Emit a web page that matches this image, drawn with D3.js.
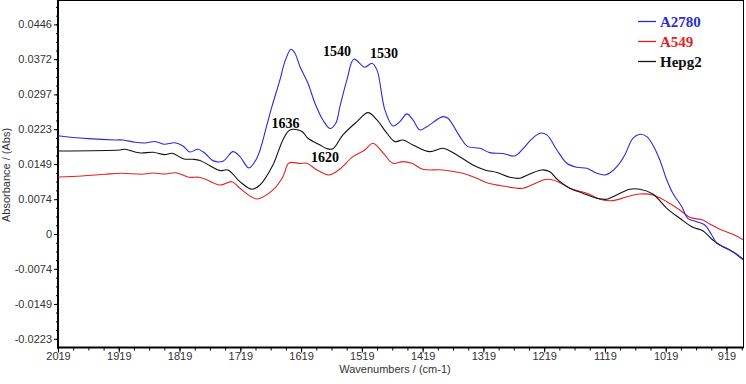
<!DOCTYPE html>
<html>
<head>
<meta charset="utf-8">
<script src="https://cdnjs.cloudflare.com/ajax/libs/d3/7.8.5/d3.min.js"></script>
<style>
body { margin: 0; background: #fff; }
svg { display: block; }
.axis text { font-family: 'Liberation Sans', Arial, sans-serif; font-size: 11px; fill: #333; }
.axis line { stroke: #000; }
</style>
</head>
<body>
<div id="chart"></div>
<script>
// spectra: wavenumber (cm-1) and absorbance
var a2780Wn = [2019, 2015.7, 1969.7, 1925.2, 1912.1, 1892.3, 1875.9, 1859.4, 1844.6, 1826.5, 1813.4, 1801.9, 1788.7, 1777.2, 1764.0, 1747.6, 1731.1, 1719.6, 1704.8, 1691.6, 1675.2, 1667.0, 1653.8, 1645.6, 1635.7, 1629.1, 1620.9, 1607.7, 1596.2, 1583.1, 1571.6, 1561.7, 1555.1, 1543.6, 1532.1, 1514.0, 1502.5, 1494.2, 1481.1, 1467.9, 1456.4, 1444.9, 1435.0, 1423.5, 1412.0, 1385.7, 1377.4, 1357.7, 1344.5, 1324.8, 1308.4, 1287.0, 1267.2, 1254.1, 1240.9, 1226.1, 1214.6, 1198.1, 1181.7, 1165.2, 1148.8, 1132.3, 1119.2, 1111.0, 1099.4, 1086.3, 1073.1, 1061.6, 1050.1, 1040.2, 1028.7, 1017.2, 1007.3, 992.5, 982.6, 967.8, 954.7, 943.2, 934.9, 918.5, 905.3, 891];
var a2780Abs = [0.02093, 0.02086, 0.02029, 0.02001, 0.02001, 0.01952, 0.01937, 0.01969, 0.01910, 0.01942, 0.01874, 0.01746, 0.01803, 0.01718, 0.01561, 0.01548, 0.01752, 0.01646, 0.01405, 0.01618, 0.02321, 0.02710, 0.03279, 0.03668, 0.03932, 0.03847, 0.03562, 0.03208, 0.02783, 0.02427, 0.02246, 0.02363, 0.02710, 0.03279, 0.03719, 0.03549, 0.03634, 0.03492, 0.02640, 0.02299, 0.02391, 0.02555, 0.02427, 0.02214, 0.02284, 0.02497, 0.02463, 0.02072, 0.01859, 0.01825, 0.01731, 0.01714, 0.01661, 0.01810, 0.02001, 0.02144, 0.02108, 0.01788, 0.01505, 0.01420, 0.01399, 0.01292, 0.01256, 0.01299, 0.01433, 0.01682, 0.02037, 0.02123, 0.02072, 0.01895, 0.01575, 0.01150, 0.00867, 0.00581, 0.00334, 0.00262, 0.00192, -0.00021, -0.00198, -0.00304, -0.00411, -0.00554];

var a549Wn = [2019, 1979.5, 1941.7, 1913.7, 1880.8, 1862.7, 1843.0, 1824.9, 1803.5, 1787.1, 1777.2, 1752.5, 1732.8, 1719.6, 1691.6, 1665.3, 1648.9, 1639.0, 1620.9, 1609.4, 1592.9, 1573.2, 1555.1, 1533.7, 1514.0, 1500.8, 1482.7, 1467.9, 1451.5, 1436.7, 1418.6, 1385.7, 1352.8, 1329.7, 1313.3, 1287.0, 1254.1, 1231.0, 1214.6, 1196.5, 1176.8, 1148.8, 1127.4, 1106.0, 1083.0, 1061.6, 1040.2, 1017.2, 995.8, 979.4, 958.0, 946.5, 930.0, 908.6, 891];
var a549Abs = [0.01214, 0.01235, 0.01271, 0.01292, 0.01271, 0.01299, 0.01277, 0.01303, 0.01207, 0.01209, 0.01171, 0.01043, 0.01113, 0.00973, 0.00745, 0.00937, 0.01220, 0.01512, 0.01501, 0.01505, 0.01363, 0.01256, 0.01384, 0.01646, 0.01788, 0.01931, 0.01703, 0.01505, 0.01539, 0.01505, 0.01377, 0.01363, 0.01292, 0.01186, 0.01092, 0.01022, 0.00973, 0.01092, 0.01165, 0.01113, 0.00973, 0.00867, 0.00741, 0.00709, 0.00794, 0.00852, 0.00830, 0.00688, 0.00511, 0.00356, 0.00298, 0.00213, 0.00100, -0.00006, -0.00128];

var hepg2Wn = [2019, 1917.0, 1908.8, 1892.3, 1882.5, 1862.7, 1843.0, 1831.5, 1811.7, 1796.9, 1785.4, 1769.0, 1752.5, 1739.3, 1719.6, 1699.9, 1686.7, 1665.3, 1648.9, 1637.4, 1617.6, 1607.7, 1588.0, 1576.5, 1566.6, 1550.2, 1527.1, 1509.0, 1494.2, 1477.8, 1464.6, 1451.5, 1435.0, 1407.1, 1385.7, 1362.6, 1336.3, 1316.6, 1296.8, 1275.5, 1259.0, 1242.6, 1222.8, 1209.7, 1196.5, 1176.8, 1155.4, 1132.3, 1115.9, 1106.0, 1078.1, 1061.6, 1040.2, 1017.2, 995.8, 974.4, 958.0, 941.5, 925.1, 908.6, 891];
var hepg2Abs = [0.01767, 0.01788, 0.01803, 0.01746, 0.01724, 0.01739, 0.01688, 0.01718, 0.01597, 0.01590, 0.01565, 0.01454, 0.01348, 0.01363, 0.01113, 0.00952, 0.01043, 0.01469, 0.02001, 0.02214, 0.02182, 0.02037, 0.01895, 0.01816, 0.01814, 0.02108, 0.02391, 0.02582, 0.02427, 0.02144, 0.01965, 0.02001, 0.01895, 0.01752, 0.01825, 0.01682, 0.01469, 0.01363, 0.01309, 0.01207, 0.01186, 0.01277, 0.01363, 0.01326, 0.01150, 0.00973, 0.00867, 0.00760, 0.00739, 0.00794, 0.00952, 0.00952, 0.00852, 0.00547, 0.00334, 0.00143, 0.00070, -0.00128, -0.00270, -0.00377, -0.00539];

var seriesNames = ['A2780', 'A549', 'Hepg2'];
var seriesColors = ['#2b2bdb', '#e52222', '#111111'];

var xTicks = [2019, 1919, 1819, 1719, 1619, 1519, 1419, 1319, 1219, 1119, 1019, 919];
var yTicks = [0.0446, 0.0372, 0.0297, 0.0223, 0.0149, 0.0074, 0, -0.0074, -0.0149, -0.0223];

var peakLabels = ['1540', '1530', '1636', '1620'];
var peakWn = [1583.1, 1505.8, 1667.5, 1602.8];
var peakAbs = [0.03790, 0.03741, 0.02250, 0.01527];

var width = 746, height = 384;
var m = {l: 58, r: 743.5, t: 0.5, b: 347.5};

var svg = d3.select('#chart').append('svg')
    .attr('width', width)
    .attr('height', height);

var x = d3.scaleLinear().domain([2019, 891]).range([m.l, m.r]);
var y = d3.scaleLinear().domain([-0.02415, 0.04968]).range([m.b, m.t]);

svg.append('defs').append('clipPath').attr('id', 'plot')
    .append('rect')
    .attr('x', m.l).attr('y', m.t)
    .attr('width', m.r - m.l).attr('height', m.b - m.t);

// minor ticks
svg.append('g').attr('class', 'axis')
    .attr('transform', 'translate(0,' + m.b + ')')
    .call(d3.axisBottom(x).tickValues(d3.range(2019, 890, -25)).tickSize(3).tickFormat(''))
    .call(function(g){ g.select('.domain').remove(); });
svg.append('g').attr('class', 'axis')
    .attr('transform', 'translate(' + m.l + ',0)')
    .call(d3.axisLeft(y).tickValues(d3.range(-0.0223, 0.0496, 0.0074333 / 4)).tickSize(2).tickFormat(''))
    .call(function(g){ g.select('.domain').remove(); });

// major ticks
svg.append('g').attr('class', 'axis')
    .attr('transform', 'translate(0,' + m.b + ')')
    .call(d3.axisBottom(x).tickValues(xTicks).tickSize(5).tickPadding(0).tickFormat(function(d){ return String(d); }))
    .call(function(g){ g.select('.domain').remove(); });
svg.append('g').attr('class', 'axis')
    .attr('transform', 'translate(' + m.l + ',0)')
    .call(d3.axisLeft(y).tickValues(yTicks).tickSize(4).tickPadding(2).tickFormat(function(d){ return String(d); }))
    .call(function(g){ g.select('.domain').remove(); });

// frame
svg.append('rect')
    .attr('x', m.l).attr('y', m.t)
    .attr('width', m.r - m.l).attr('height', m.b - m.t)
    .attr('fill', 'none').attr('stroke', '#000').attr('stroke-width', 1);
svg.append('line')
    .attr('x1', m.l).attr('x2', m.l).attr('y1', 0).attr('y2', m.b + 1)
    .attr('stroke', '#000').attr('stroke-width', 2);
svg.append('line')
    .attr('x1', m.l - 1).attr('x2', m.r).attr('y1', m.b).attr('y2', m.b)
    .attr('stroke', '#000').attr('stroke-width', 2);

var line = d3.line()
    .x(function(d){ return x(d[0]); })
    .y(function(d){ return y(d[1]); })
    .curve(d3.curveCatmullRom.alpha(0.5));

var series = [d3.zip(a2780Wn, a2780Abs), d3.zip(a549Wn, a549Abs), d3.zip(hepg2Wn, hepg2Abs)];
var order = [1, 2, 0];

svg.append('g').attr('clip-path', 'url(#plot)')
    .selectAll('path')
    .data(order)
    .enter().append('path')
    .attr('d', function(i){ return line(series[i]); })
    .attr('fill', 'none')
    .attr('stroke', function(i){ return seriesColors[i]; })
    .attr('stroke-width', 1.1);

// peak annotations
svg.selectAll('.peak')
    .data(peakLabels)
    .enter().append('text')
    .attr('class', 'peak')
    .attr('x', function(d, i){ return x(peakWn[i]); })
    .attr('y', function(d, i){ return y(peakAbs[i]); })
    .style('font-family', "'Liberation Serif', 'Times New Roman', serif")
    .style('font-weight', 'bold')
    .style('font-size', '14px')
    .attr('fill', '#000')
    .text(function(d){ return d; });

// legend
var legend = svg.append('g').attr('transform', 'translate(638,26.5)');
seriesNames.forEach(function(name, i){
    var row = legend.append('g').attr('transform', 'translate(0,' + (i * 20) + ')');
    row.append('line')
        .attr('x1', 0).attr('x2', 18).attr('y1', -5).attr('y2', -5)
        .attr('stroke', seriesColors[i]).attr('stroke-width', 1.3);
    row.append('text')
        .attr('x', 22).attr('y', 0)
        .style('font-family', "'Liberation Serif', 'Times New Roman', serif")
        .style('font-weight', 'bold')
        .style('font-size', '15px')
        .attr('fill', seriesColors[i])
        .text(name);
});

// axis titles
svg.append('text')
    .attr('x', 395).attr('y', 373)
    .attr('text-anchor', 'middle')
    .style('font-family', "'Liberation Sans', Arial, sans-serif")
    .style('font-size', '11px')
    .attr('fill', '#333')
    .text('Wavenumbers / (cm-1)');
svg.append('text')
    .attr('transform', 'translate(10,175) rotate(-90)')
    .attr('text-anchor', 'middle')
    .style('font-family', "'Liberation Sans', Arial, sans-serif")
    .style('font-size', '11px')
    .attr('fill', '#333')
    .text('Absorbance / (Abs)');
</script>
</body>
</html>
